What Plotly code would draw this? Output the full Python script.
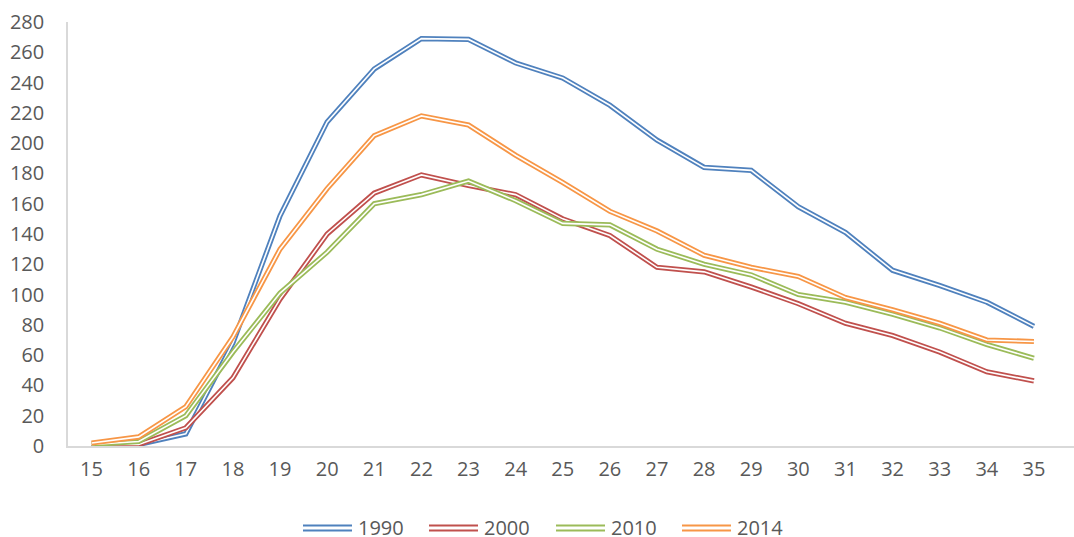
import plotly.graph_objects as go

# ---------------------------------------------------------------------------------------------------------------------------------------------------
# data
# ---------------------------------------------------------------------------------------------------------------------------------------------------
ages = list(range(15, 36))
series_names = ["1990", "2000", "2010", "2014"]
y_1990 = [1.5, 1, 8, 68, 152, 214, 249, 269, 268.5, 253, 243, 225, 202, 184, 182, 158, 141, 116, 106, 95, 79]
y_2000 = [1, 1, 12, 45, 97, 140, 167, 179, 172, 166, 150, 139, 118, 115, 105, 94, 81, 73, 62, 49, 43]
y_2010 = [1, 3, 20, 62, 101, 128, 160, 166, 175, 162, 147, 146, 130, 120, 113, 100, 95, 87, 78, 67, 58]
y_2014 = [2, 6, 26, 72, 130, 170, 205, 218, 212, 192, 174, 155, 142, 126, 118, 112, 98, 90, 81, 70, 69]
series_values = [y_1990, y_2000, y_2010, y_2014]
colors = ["#4F81BD", "#C0504D", "#9BBB59", "#F79646"]

W, H = 1074, 537
left, right, top, bottom = 68, 1074, 22, 446

fig = go.Figure()

# double line look: thick coloured stroke with a thin white core
for name, vals, col in zip(series_names, series_values, colors):
    fig.add_trace(go.Scatter(x=ages, y=vals, mode="lines", name=name,
                             line=dict(color=col, width=5.2), showlegend=False, hoverinfo="skip"))
    fig.add_trace(go.Scatter(x=ages, y=vals, mode="lines", name=name,
                             line=dict(color="white", width=1.6), showlegend=False))

# hand made legend so the symbol can be doubled too
def px_x(p):
    return (p - left) / (right - left)

def px_y(p):
    return (bottom - p) / (bottom - top)

legend_x = [303, 429, 556, 682]
for name, col, lx in zip(series_names, colors, legend_x):
    for ly in (525.5, 530.5):
        fig.add_shape(type="line", xref="paper", yref="paper",
                      x0=px_x(lx), x1=px_x(lx + 49), y0=px_y(ly), y1=px_y(ly),
                      line=dict(color=col, width=2))
    fig.add_annotation(x=px_x(lx + 53), y=px_y(527), xref="paper", yref="paper",
                       text=name, showarrow=False, xanchor="left", yanchor="middle",
                       font=dict(size=20, color="#595959"))

x_max = 35.5 + (right - 1057.5) / 47.1

fig.update_layout(width=W, height=H,
                  margin=dict(l=left, r=W - right, t=top, b=H - bottom, autoexpand=False),
                  plot_bgcolor="white", paper_bgcolor="white",
                  font=dict(family="Open Sans, Liberation Sans, sans-serif", size=20, color="#595959"),
                  showlegend=False)
fig.update_xaxes(range=[14.5, x_max], tickvals=ages, ticktext=[str(a) for a in ages],
                 showgrid=False, zeroline=False, showline=True, linecolor="#D9D9D9", linewidth=1.5,
                 ticks="outside", ticklen=4, tickcolor="rgba(0,0,0,0)", tickfont=dict(size=20))
fig.update_yaxes(range=[0, 280], dtick=20, showgrid=False, zeroline=False,
                 showline=True, linecolor="#D9D9D9", linewidth=1.5,
                 ticks="outside", ticklen=18, tickcolor="rgba(0,0,0,0)", tickfont=dict(size=20))

fig.write_html("out.html", config={"displayModeBar": False},
               post_script="document.body.style.margin='0';")
